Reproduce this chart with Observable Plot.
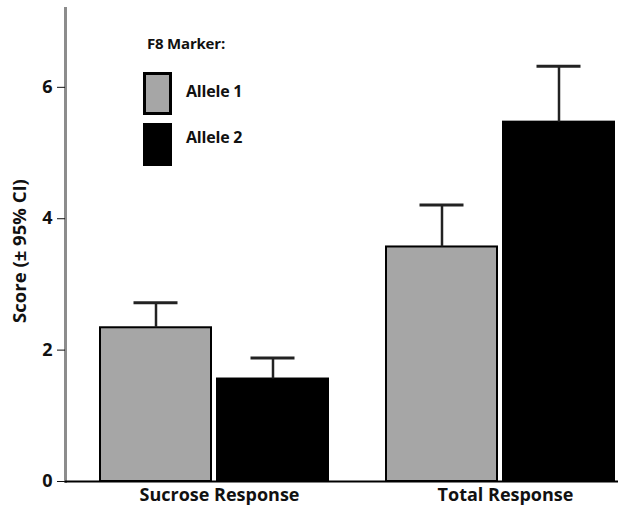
<!DOCTYPE html>
<html>
<head>
<meta charset="utf-8">
<script src="https://cdn.jsdelivr.net/npm/d3@7"></script>
<script src="https://cdn.jsdelivr.net/npm/@observablehq/plot@0.6"></script>
<style>
  html, body { margin: 0; padding: 0; background: #fff; }
  #wrap { position: relative; width: 618px; height: 513px; font-family: "Open Sans", Lato, sans-serif; }
  #legend { position: absolute; left: 0; top: 0; font-weight: bold; color: #111; }
  .lg-title { position: absolute; left: 147px; top: 33px; font-size: 15px; white-space: nowrap; letter-spacing: -0.2px; }
  .lg-sw { position: absolute; left: 143px; width: 29px; height: 43px; box-sizing: border-box; border: 3px solid #000; }
  .lg-lab { position: absolute; left: 186px; font-size: 16px; white-space: nowrap; line-height: 20px; letter-spacing: -0.2px; }
</style>
</head>
<body>
<div id="wrap"></div>
<script>
const categories = ["Sucrose Response", "Total Response"];
const alleles = ["Allele 1", "Allele 2"];
const allele1Means = [2.34, 3.57];
const allele2Means = [1.56, 5.47];
const allele1Upper = [2.72, 4.21];
const allele2Upper = [1.88, 6.32];
const yTicks = [0, 2, 4, 6];
const alleleColors = ["#a6a6a6", "#000000"];
const legendTitle = "F8 Marker:";
const yLabel = "Score (± 95% CI)";

const a1 = categories.map((c, i) => ({category: c, allele: alleles[0], mean: allele1Means[i], upper: allele1Upper[i]}));
const a2 = categories.map((c, i) => ({category: c, allele: alleles[1], mean: allele2Means[i], upper: allele2Upper[i]}));

const chart = Plot.plot({
  width: 618,
  height: 513,
  marginLeft: 65,
  marginRight: 0,
  marginTop: 8,
  marginBottom: 32,
  style: {fontFamily: "'Open Sans', Lato, sans-serif", fontWeight: "bold", fontSize: "17px", color: "#111", background: "#fff"},
  x: {domain: categories, paddingInner: 0.19, paddingOuter: 0.06, align: 0.94, label: null},
  y: {domain: [0, 7.2], label: null},
  color: {domain: alleles, range: alleleColors},
  marks: [
    Plot.frame({anchor: "left", stroke: "#8c8c8c", strokeWidth: 3}),
    Plot.barY(a1, {x: "category", y: "mean", fill: "allele", stroke: "#000", strokeWidth: 2, insetLeft: 2, insetRight: 119}),
    Plot.barY(a2, {x: "category", y: "mean", fill: "allele", stroke: "#000", strokeWidth: 2, insetLeft: 119, insetRight: 2}),
    Plot.ruleX(a1, {x: "category", y1: "mean", y2: "upper", dx: -58.5, stroke: "#222", strokeWidth: 2.5}),
    Plot.ruleX(a2, {x: "category", y1: "mean", y2: "upper", dx: 58.5, stroke: "#222", strokeWidth: 2.5}),
    Plot.tickY(a1, {x: "category", y: "upper", insetLeft: 35.5, insetRight: 152.5, stroke: "#222", strokeWidth: 3}),
    Plot.tickY(a2, {x: "category", y: "upper", insetLeft: 152.5, insetRight: 35.5, stroke: "#222", strokeWidth: 3}),
    Plot.ruleY([0], {stroke: "#000", strokeWidth: 2}),
    Plot.axisY({ticks: yTicks, tickSize: 8, tickPadding: 5, tickFormat: d3.format("d"), fontSize: 18, label: null}),
    Plot.text([yLabel], {frameAnchor: "left", textAnchor: "middle", rotate: -90, dx: -45, dy: 6, fontSize: 18.5, fontWeight: "bold", fill: "#111"}),
    Plot.axisX({tickSize: 0, tickPadding: 7, dx: 5, fontSize: 18, label: null})
  ]
});

const wrap = document.getElementById("wrap");
wrap.appendChild(chart);

const legend = document.createElement("div");
legend.id = "legend";
const t = document.createElement("div");
t.className = "lg-title";
t.textContent = legendTitle;
legend.appendChild(t);
alleles.forEach((a, i) => {
  const sw = document.createElement("div");
  sw.className = "lg-sw";
  sw.style.top = (72 + i * 51) + "px";
  sw.style.background = alleleColors[i];
  legend.appendChild(sw);
  const lb = document.createElement("div");
  lb.className = "lg-lab";
  lb.style.top = (81 + i * 46) + "px";
  lb.textContent = a;
  legend.appendChild(lb);
});
wrap.appendChild(legend);
</script>
</body>
</html>
